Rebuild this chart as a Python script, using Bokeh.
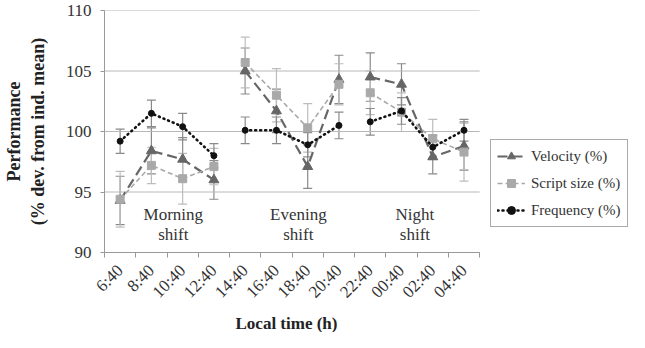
import math
from bokeh.plotting import figure
from bokeh.models import (ColumnDataSource, FixedTicker, Whisker, Legend, LegendItem,
                          Range1d, TeeHead, Title)
from bokeh.core.properties import value
from bokeh.embed import file_html
from bokeh.resources import INLINE

times = ["6:40", "8:40", "10:40", "12:40", "14:40", "16:40", "18:40", "20:40",
         "22:40", "00:40", "02:40", "04:40"]
shift_of = [0, 0, 0, 0, 1, 1, 1, 1, 2, 2, 2, 2]
velocity = [94.3, 98.4, 97.7, 96.0, 105.0, 101.7, 97.1, 104.3, 104.5, 103.9, 97.9, 98.8]
velocity_err = [2.0, 1.9, 1.8, 1.6, 1.9, 1.8, 1.8, 2.0, 2.0, 1.7, 1.4, 2.0]
script = [94.4, 97.2, 96.1, 97.1, 105.7, 103.0, 100.3, 103.9, 103.2, 101.6, 99.4, 98.3]
script_err = [2.3, 1.5, 2.1, 1.5, 2.1, 2.2, 2.0, 1.7, 1.8, 1.6, 1.6, 2.4]
freq = [99.2, 101.5, 100.4, 98.0, 100.1, 100.1, 98.9, 100.5, 100.8, 101.7, 98.7, 100.1]
freq_err = [1.0, 1.1, 1.1, 1.0, 1.1, 1.1, 1.0, 1.1, 1.1, 1.1, 1.0, 0.9]
shift_names = ["Morning\nshift", "Evening\nshift", "Night\nshift"]
y_ticks = [90, 95, 100, 105, 110]

FONT = "Liberation Serif"
xs = list(range(len(times)))
x_lo, x_hi = -0.5, len(times) - 0.5

W, H = 629, 332
LEFT, RIGHT_PLOT, TOP, BOTTOM = 100, 478, 10, 60
px_per_cat = (RIGHT_PLOT - LEFT) / len(times)
x_end = x_hi + (W - RIGHT_PLOT) / px_per_cat   # room on the right for the legend

p = figure(width=W, height=H, output_backend="svg", toolbar_location=None,
           x_range=Range1d(x_lo, x_end), y_range=Range1d(90, 110),
           min_border_left=LEFT, min_border_right=0, min_border_top=TOP,
           min_border_bottom=BOTTOM)
p.outline_line_color = None
p.xgrid.grid_line_color = None
p.ygrid.grid_line_color = None
# horizontal grid lines limited to the category span
p.segment(x0=[x_lo] * len(y_ticks), x1=[x_hi] * len(y_ticks), y0=y_ticks, y1=y_ticks,
          line_color="#b8b8b8", line_width=1)

# axes
p.xaxis.bounds = (x_lo, x_hi)
p.xaxis.ticker = FixedTicker(ticks=xs, minor_ticks=[i - 0.5 for i in range(len(times) + 1)])
p.xaxis.major_label_overrides = {i: t for i, t in zip(xs, times)}
p.xaxis.major_label_orientation = math.pi / 4
p.xaxis.major_tick_line_color = None
p.xaxis.major_tick_in = 0
p.xaxis.major_tick_out = 5
p.xaxis.minor_tick_line_color = "#999999"
p.xaxis.minor_tick_in = 0
p.xaxis.minor_tick_out = 5
p.yaxis.ticker = FixedTicker(ticks=y_ticks)
p.yaxis.major_tick_in = 0
p.yaxis.major_tick_out = 4
p.yaxis.major_tick_line_color = "#999999"
p.yaxis.minor_tick_line_color = None
for ax in (p.xaxis[0], p.yaxis[0]):
    ax.axis_line_color = "#999999"
    ax.major_label_text_font = FONT
    ax.major_label_text_font_size = "17px"
    ax.major_label_text_color = "#333333"
    ax.axis_label_text_font = FONT
    ax.axis_label_text_font_size = "18px"
    ax.axis_label_text_font_style = "bold"
    ax.axis_label_text_color = "#222222"
p.yaxis.axis_label = "Performance\n(% dev. from ind. mean)"
p.xaxis.major_label_standoff = 10
p.yaxis.major_label_standoff = 9
p.yaxis.axis_label_standoff = 15

xtitle = Title(text="Local time (h)", align="left", offset=131,
               text_font=FONT, text_font_size="17px", text_font_style="bold",
               text_color="#222222", standoff=0)
p.add_layout(xtitle, "below")

series = [
    ("Velocity (%)", velocity, velocity_err, "#666666", "#8a8a8a", "10 5", 2.2, "triangle", 10),
    ("Script size (%)", script, script_err, "#a9a9a9", "#bdbdbd", "5 3", 1.6, "square", 8),
    ("Frequency (%)", freq, freq_err, "#111111", "#8a8a8a", "1 4", 2.6, "circle", 6),
]

items = []
for name, vals, errs, col, ecol, dash, lw, marker, msize in series:
    src = ColumnDataSource(dict(x=xs, y=vals,
                                upper=[v + e for v, e in zip(vals, errs)],
                                lower=[v - e for v, e in zip(vals, errs)]))
    w = Whisker(source=src, base="x", upper="upper", lower="lower",
                line_color=ecol, line_width=1.2,
                upper_head=TeeHead(size=9, line_color=ecol, line_width=1.2),
                lower_head=TeeHead(size=9, line_color=ecol, line_width=1.2))
    p.add_layout(w)
    rends = []
    for k in range(len(shift_names)):
        idx = [i for i in xs if shift_of[i] == k]
        lsrc = ColumnDataSource(dict(x=idx, y=[vals[i] for i in idx]))
        r1 = p.line("x", "y", source=lsrc, line_color=col, line_width=lw,
                    line_dash=dash, line_cap="round" if marker == "circle" else "butt")
        rends.append(r1)
    r2 = p.scatter("x", "y", source=src, marker=marker, size=msize,
                   fill_color=col, line_color=col)
    items.append(LegendItem(label=name, renderers=[rends[0], r2]))

legend = Legend(items=items, location=(386, 25))
legend.label_text_font = FONT
legend.label_text_font_size = "15px"
legend.label_text_color = "#333333"
legend.border_line_color = "#555555"
legend.border_line_width = 1.5
legend.padding = 6
legend.spacing = 7
legend.margin = 0
legend.glyph_width = 28
legend.glyph_height = 20
legend.label_standoff = 6
p.add_layout(legend)

shift_x = [1.70, 5.70, 9.43]
shift_y = [92.3, 92.3, 92.3]
p.text(x=shift_x, y=shift_y, text=shift_names, text_font=value(FONT),
       text_font_size="17px", text_align="center", text_baseline="middle",
       text_color="#333333", text_line_height=1.05)

open("out.html", "w").write(file_html(p, INLINE))
